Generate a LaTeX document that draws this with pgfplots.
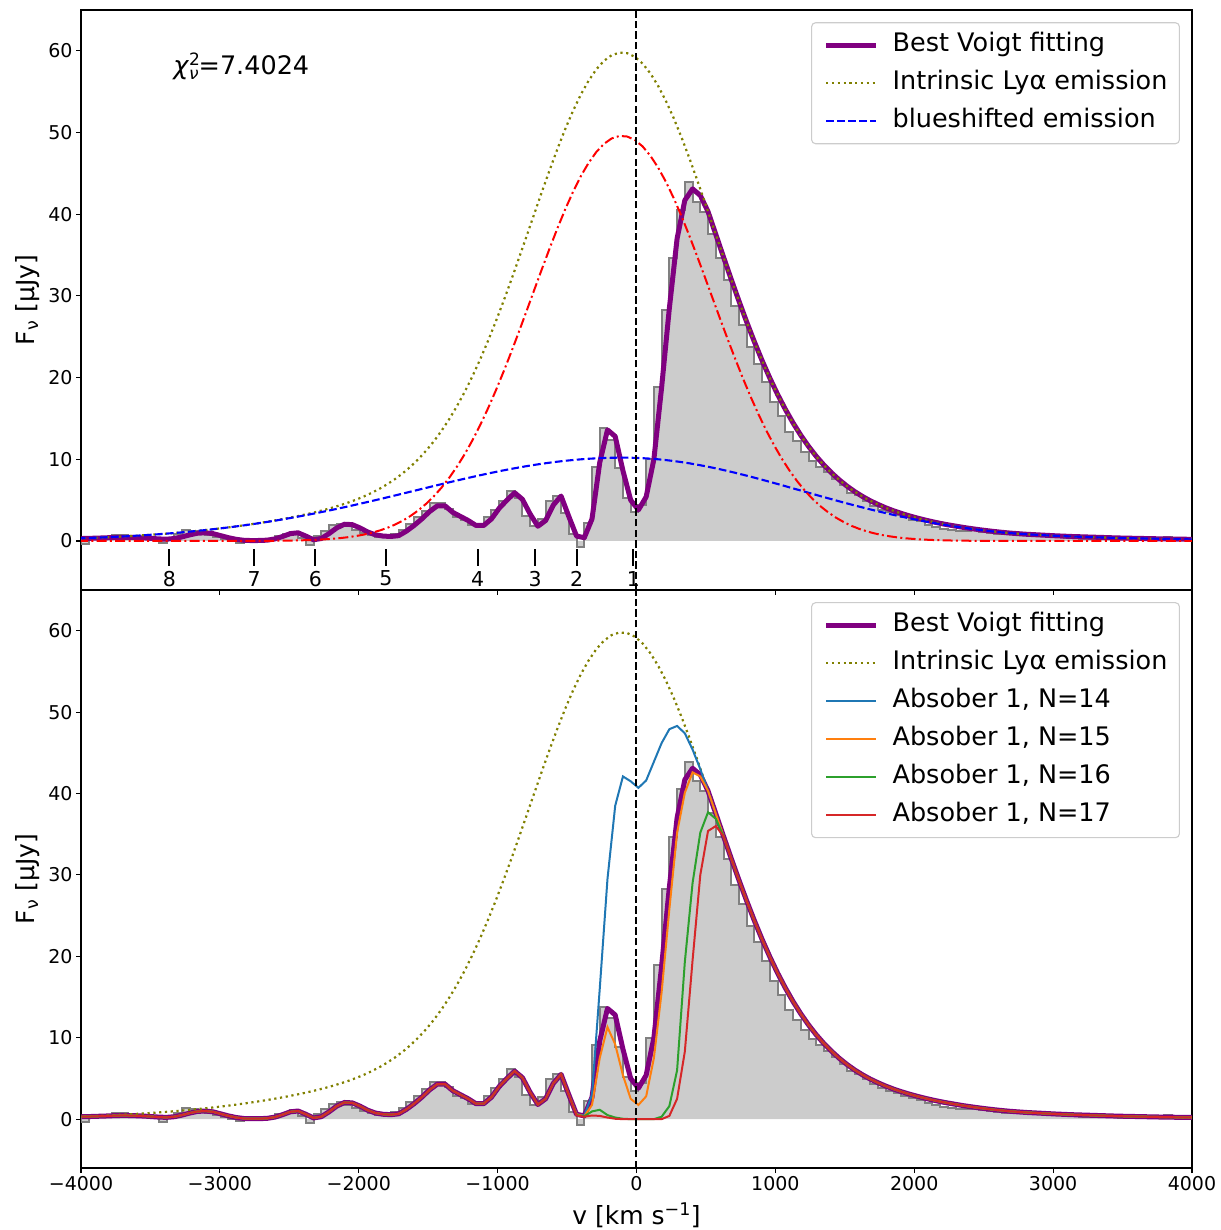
\documentclass[border=0pt]{standalone}
\usepackage{fontspec}
\setmainfont{DejaVu Sans}
\usepackage{pgfplots}
\usepackage{pgfplotstable}
\pgfplotsset{compat=1.18}
\definecolor{mplpurple}{HTML}{800080}
\definecolor{mplolive}{HTML}{808000}
\definecolor{tabblue}{HTML}{1F77B4}
\definecolor{taborange}{HTML}{FF7F0E}
\definecolor{tabgreen}{HTML}{2CA02C}
\definecolor{tabred}{HTML}{D62728}
\definecolor{legedge}{HTML}{CCCCCC}

\pgfplotstableread{
v D P n14 n15 n16 n17
-3996.5 0.3 0.30 0.30 0.30 0.30 0.30
-3940.8 -0.4 0.32 0.32 0.32 0.32 0.32
-3885.1 0.3 0.35 0.35 0.35 0.35 0.35
-3829.4 0.4 0.38 0.38 0.38 0.38 0.38
-3773.7 0.5 0.42 0.42 0.42 0.42 0.42
-3718.0 0.7 0.45 0.45 0.45 0.45 0.45
-3662.3 0.7 0.45 0.45 0.45 0.45 0.45
-3606.6 0.5 0.42 0.42 0.42 0.42 0.42
-3550.9 0.4 0.38 0.38 0.38 0.38 0.38
-3495.2 0.3 0.32 0.32 0.32 0.32 0.32
-3439.5 0.3 0.25 0.25 0.25 0.25 0.25
-3383.8 -0.3 0.22 0.22 0.22 0.22 0.22
-3328.1 0.1 0.30 0.30 0.30 0.30 0.30
-3272.4 0.8 0.50 0.50 0.50 0.50 0.50
-3216.7 1.4 0.75 0.75 0.75 0.75 0.75
-3161.0 1.2 0.95 0.95 0.95 0.95 0.95
-3105.3 0.9 1.00 1.00 1.00 1.00 1.00
-3049.6 0.7 0.90 0.90 0.90 0.90 0.90
-2993.9 0.5 0.65 0.65 0.65 0.65 0.65
-2938.2 0.3 0.40 0.40 0.40 0.40 0.40
-2882.5 0.0 0.20 0.20 0.20 0.20 0.20
-2826.8 -0.2 0.08 0.08 0.08 0.08 0.08
-2771.1 -0.1 0.05 0.05 0.05 0.05 0.05
-2715.4 0.0 0.06 0.06 0.06 0.06 0.06
-2659.7 0.1 0.10 0.10 0.10 0.10 0.10
-2604.0 0.3 0.25 0.25 0.25 0.25 0.25
-2548.3 0.6 0.55 0.55 0.55 0.55 0.55
-2492.6 0.8 0.90 0.90 0.90 0.90 0.90
-2436.9 1.1 1.00 1.00 1.00 1.00 1.00
-2381.2 0.4 0.60 0.60 0.60 0.60 0.60
-2325.5 -0.5 0.15 0.15 0.15 0.15 0.15
-2269.8 0.6 0.30 0.30 0.30 0.30 0.30
-2214.1 1.2 0.90 0.90 0.90 0.90 0.90
-2158.4 1.9 1.60 1.60 1.60 1.60 1.60
-2102.7 2.1 2.05 2.05 2.05 2.05 2.05
-2047.0 1.8 2.00 2.00 2.00 2.00 2.00
-1991.3 1.4 1.60 1.60 1.60 1.60 1.60
-1935.6 1.0 1.10 1.10 1.10 1.10 1.10
-1879.9 0.7 0.75 0.75 0.75 0.75 0.75
-1824.2 0.5 0.60 0.60 0.60 0.60 0.60
-1768.5 0.6 0.55 0.55 0.55 0.55 0.55
-1712.8 0.9 0.65 0.65 0.65 0.65 0.65
-1657.1 1.4 1.20 1.20 1.20 1.20 1.20
-1601.4 2.1 1.90 1.90 1.90 1.90 1.90
-1545.7 2.9 2.70 2.70 2.70 2.70 2.70
-1490.0 3.7 3.60 3.60 3.60 3.60 3.60
-1434.3 4.6 4.30 4.30 4.30 4.30 4.30
-1378.6 4.6 4.30 4.30 4.30 4.30 4.30
-1322.9 3.9 3.50 3.50 3.50 3.50 3.50
-1267.2 2.9 3.00 3.00 3.00 3.00 3.00
-1211.5 2.6 2.50 2.50 2.50 2.50 2.50
-1155.8 1.9 1.90 1.90 1.90 1.90 1.90
-1100.1 1.9 1.90 1.90 1.90 1.90 1.90
-1044.4 2.9 2.70 2.70 2.70 2.70 2.70
-988.7 3.8 4.00 4.00 4.00 4.00 4.00
-933.0 4.9 5.00 5.00 5.00 5.00 5.00
-877.3 6.1 5.90 5.90 5.90 5.90 5.90
-821.6 5.2 5.10 5.10 5.10 5.10 5.10
-765.9 3.0 3.30 3.30 3.30 3.30 3.30
-710.2 1.8 1.80 1.80 1.80 1.80 1.80
-654.5 2.7 2.50 2.50 2.50 2.50 2.50
-598.8 4.9 4.40 4.40 4.40 4.40 4.40
-543.1 5.5 5.50 5.50 5.50 5.50 5.50
-487.4 3.4 3.00 3.00 3.00 3.00 3.00
-431.7 0.9 0.60 0.60 0.60 0.50 0.45
-376.0 -0.7 0.40 0.45 0.35 0.35 0.30
-320.3 2.2 2.70 3.00 1.75 0.95 0.45
-264.6 9.1 9.60 16.0 7.50 1.15 0.40
-208.9 13.8 13.60 29.5 11.3 0.50 0.20
-153.2 12.4 12.80 38.5 9.20 0.20 0.05
-97.5 8.9 8.60 42.1 5.40 0.05 0.00
-41.8 5.2 5.00 41.5 2.50 0.00 0.00
13.9 3.5 3.80 40.7 1.75 0.00 0.00
69.6 4.4 5.40 41.6 2.80 0.00 0.00
125.3 10.0 10.00 43.9 7.50 0.00 0.00
181.0 18.9 18.80 46.2 15.6 0.30 0.00
236.7 28.3 28.50 47.9 25.8 1.60 0.40
292.4 34.6 37.00 48.3 35.2 6.00 2.50
348.1 40.5 41.70 47.4 40.1 19.3 8.30
403.8 43.9 43.10 45.4 42.6 29.0 19.5
459.5 41.5 42.30 43.0 42.1 35.2 30.0
515.2 40.3 40.32 40.32 40.32 37.7 35.4
570.9 37.6 37.54 37.54 37.54 36.9 36.0
626.6 34.7 34.76 34.76 34.76 34.76 34.76
682.3 31.9 32.02 32.02 32.02 32.02 32.02
738.0 28.8 29.36 29.36 29.36 29.36 29.36
793.7 26.4 26.80 26.80 26.80 26.80 26.80
849.4 23.7 24.36 24.36 24.36 24.36 24.36
905.1 21.7 22.06 22.06 22.06 22.06 22.06
960.8 19.4 19.92 19.92 19.92 19.92 19.92
1016.5 17.0 17.93 17.93 17.93 17.93 17.93
1072.2 15.3 16.11 16.11 16.11 16.11 16.11
1127.9 13.4 14.44 14.44 14.44 14.44 14.44
1183.6 12.2 12.93 12.93 12.93 12.93 12.93
1239.3 10.9 11.57 11.57 11.57 11.57 11.57
1295.0 9.8 10.35 10.35 10.35 10.35 10.35
1350.7 9.1 9.27 9.27 9.27 9.27 9.27
1406.4 8.4 8.31 8.31 8.31 8.31 8.31
1462.1 7.6 7.45 7.45 7.45 7.45 7.45
1517.8 6.8 6.69 6.69 6.69 6.69 6.69
1573.5 5.9 6.02 6.02 6.02 6.02 6.02
1629.2 5.6 5.43 5.43 5.43 5.43 5.43
1684.9 4.9 4.91 4.91 4.91 4.91 4.91
1740.6 4.3 4.46 4.46 4.46 4.46 4.46
1796.3 3.8 4.05 4.05 4.05 4.05 4.05
1852.0 3.5 3.69 3.69 3.69 3.69 3.69
1907.7 3.2 3.37 3.37 3.37 3.37 3.37
1963.4 2.9 3.08 3.08 3.08 3.08 3.08
2019.1 2.6 2.82 2.82 2.82 2.82 2.82
2074.8 2.4 2.58 2.58 2.58 2.58 2.58
2130.5 2.0 2.36 2.36 2.36 2.36 2.36
2186.2 1.7 2.16 2.16 2.16 2.16 2.16
2241.9 1.5 1.98 1.98 1.98 1.98 1.98
2297.6 1.4 1.82 1.82 1.82 1.82 1.82
2353.3 1.2 1.66 1.66 1.66 1.66 1.66
2409.0 1.2 1.52 1.52 1.52 1.52 1.52
2464.7 1.3 1.39 1.39 1.39 1.39 1.39
2520.4 1.1 1.27 1.27 1.27 1.27 1.27
2576.1 1.0 1.16 1.16 1.16 1.16 1.16
2631.8 0.9 1.06 1.06 1.06 1.06 1.06
2687.5 0.8 0.97 0.97 0.97 0.97 0.97
2743.2 0.8 0.90 0.90 0.90 0.90 0.90
2798.9 0.7 0.83 0.83 0.83 0.83 0.83
2854.6 0.7 0.78 0.78 0.78 0.78 0.78
2910.3 0.6 0.73 0.73 0.73 0.73 0.73
2966.0 0.7 0.68 0.68 0.68 0.68 0.68
3021.7 0.5 0.63 0.63 0.63 0.63 0.63
3077.4 0.5 0.59 0.59 0.59 0.59 0.59
3133.1 0.4 0.55 0.55 0.55 0.55 0.55
3188.8 0.4 0.52 0.52 0.52 0.52 0.52
3244.5 0.3 0.49 0.49 0.49 0.49 0.49
3300.2 0.3 0.46 0.46 0.46 0.46 0.46
3355.9 0.4 0.43 0.43 0.43 0.43 0.43
3411.6 0.3 0.40 0.40 0.40 0.40 0.40
3467.3 0.3 0.37 0.37 0.37 0.37 0.37
3523.0 0.2 0.35 0.35 0.35 0.35 0.35
3578.7 0.2 0.33 0.33 0.33 0.33 0.33
3634.4 0.3 0.31 0.31 0.31 0.31 0.31
3690.1 0.3 0.29 0.29 0.29 0.29 0.29
3745.8 0.2 0.27 0.27 0.27 0.27 0.27
3801.5 0.4 0.25 0.25 0.25 0.25 0.25
3857.2 0.5 0.24 0.24 0.24 0.24 0.24
3912.9 0.3 0.22 0.22 0.22 0.22 0.22
3968.6 0.2 0.21 0.21 0.21 0.21 0.21
4024.3 0.3 0.20 0.20 0.20 0.20 0.20
}\datatab

\pgfplotstableread{
X R B O
-4021.5 0 0.320 0.320
-3965.8 0 0.352 0.352
-3910.1 0 0.388 0.388
-3854.4 0 0.427 0.427
-3798.7 0 0.468 0.468
-3743.0 0 0.513 0.513
-3687.3 0 0.562 0.562
-3631.6 0 0.615 0.615
-3575.9 0 0.671 0.671
-3520.2 0 0.732 0.732
-3464.5 0 0.797 0.797
-3408.8 0 0.866 0.866
-3353.1 0 0.941 0.941
-3297.4 0 1.020 1.020
-3241.7 0 1.104 1.104
-3186.0 0 1.194 1.194
-3130.3 0 1.290 1.290
-3074.6 0 1.390 1.390
-3018.9 0 1.497 1.497
-2963.2 0 1.610 1.610
-2907.5 0 1.728 1.728
-2851.8 0.005 1.853 1.858
-2796.1 0.008 1.984 1.992
-2740.4 0.012 2.122 2.134
-2684.7 0.017 2.266 2.283
-2629.0 0.023 2.416 2.439
-2573.3 0.033 2.572 2.605
-2517.6 0.045 2.735 2.780
-2461.9 0.063 2.904 2.967
-2406.2 0.085 3.079 3.164
-2350.5 0.116 3.260 3.376
-2294.8 0.156 3.447 3.603
-2239.1 0.208 3.640 3.848
-2183.4 0.276 3.838 4.114
-2127.7 0.363 4.041 4.404
-2072.0 0.474 4.249 4.723
-2016.3 0.615 4.461 5.076
-1960.6 0.791 4.677 5.468
-1904.9 1.010 4.897 5.907
-1849.2 1.281 5.121 6.402
-1793.5 1.611 5.347 6.958
-1737.8 2.013 5.575 7.588
-1682.1 2.496 5.805 8.301
-1626.4 3.071 6.036 9.107
-1570.7 3.751 6.267 10.018
-1515.0 4.548 6.498 11.046
-1459.3 5.471 6.728 12.199
-1403.6 6.537 6.956 13.493
-1347.9 7.748 7.183 14.931
-1292.2 9.117 7.406 16.523
-1236.5 10.64 7.625 18.265
-1180.8 12.34 7.840 20.18
-1125.1 14.20 8.050 22.25
-1069.4 16.22 8.255 24.48
-1013.7 18.39 8.452 26.84
-958.0 20.69 8.642 29.33
-902.3 23.10 8.823 31.92
-846.6 25.61 8.997 34.61
-790.9 28.18 9.160 37.34
-735.2 30.78 9.314 40.09
-679.5 33.36 9.457 42.82
-623.8 35.89 9.589 45.48
-568.1 38.33 9.709 48.04
-512.4 40.63 9.817 50.45
-456.7 42.75 9.911 52.66
-401.0 44.65 9.994 54.64
-345.3 46.27 10.063 56.33
-289.6 47.61 10.118 57.73
-233.9 48.62 10.159 58.78
-178.2 49.28 10.186 59.47
-122.5 49.58 10.199 59.78
-66.8 49.51 10.197 59.71
-11.1 49.08 10.175 59.26
44.6 48.29 10.135 58.43
100.3 47.15 10.076 57.23
156.0 45.70 9.998 55.70
211.7 43.97 9.902 53.87
267.4 41.99 9.788 51.78
323.1 39.80 9.658 49.46
378.8 37.44 9.511 46.95
434.5 34.96 9.348 44.31
490.2 32.40 9.171 41.57
545.9 29.81 8.981 38.79
601.6 27.22 8.777 36.00
657.3 24.67 8.562 33.23
713.0 22.20 8.337 30.54
768.7 19.82 8.102 27.92
824.4 17.56 7.859 25.42
880.1 15.45 7.608 23.06
935.8 13.49 7.352 20.84
991.5 11.69 7.091 18.78
1047.2 10.06 6.826 16.89
1102.9 8.59 6.559 15.15
1158.6 7.28 6.290 13.57
1214.3 6.12 6.021 12.14
1270.0 5.11 5.752 10.86
1325.7 4.24 5.485 9.73
1381.4 3.49 5.221 8.71
1437.1 2.85 4.960 7.81
1492.8 2.31 4.703 7.01
1548.5 1.85 4.451 6.30
1604.2 1.48 4.204 5.68
1659.9 1.17 3.964 5.13
1715.6 0.92 3.730 4.65
1771.3 0.72 3.503 4.22
1827.0 0.56 3.284 3.84
1882.7 0.43 3.073 3.50
1938.4 0.33 2.870 3.20
1994.1 0.25 2.675 2.93
2049.8 0.19 2.489 2.68
2105.5 0.14 2.312 2.45
2161.2 0.10 2.143 2.24
2216.9 0.076 1.982 2.06
2272.6 0.055 1.830 1.89
2328.3 0.040 1.687 1.73
2384.0 0.029 1.552 1.58
2439.7 0.021 1.425 1.45
2495.4 0.015 1.306 1.32
2551.1 0.010 1.194 1.20
2606.8 0 1.09 1.09
2662.5 0 1.00 1.00
2718.2 0 0.93 0.93
2773.9 0 0.86 0.86
2829.6 0 0.80 0.80
2885.3 0 0.75 0.75
2941.0 0 0.70 0.70
2996.7 0 0.65 0.65
3052.4 0 0.61 0.61
3108.1 0 0.57 0.57
3163.8 0 0.53 0.53
3219.5 0 0.50 0.50
3275.2 0 0.47 0.47
3330.9 0 0.44 0.44
3386.6 0 0.41 0.41
3442.3 0 0.38 0.38
3498.0 0 0.36 0.36
3553.7 0 0.34 0.34
3609.4 0 0.32 0.32
3665.1 0 0.30 0.30
3720.8 0 0.28 0.28
3776.5 0 0.26 0.26
3832.2 0 0.24 0.24
3887.9 0 0.23 0.23
3943.6 0 0.21 0.21
3999.3 0 0.20 0.20
4055.0 0 0.19 0.19
}\smoothtab

\pgfplotsset{
  lyabase/.style={
    scale only axis, width=1111pt,
    xmin=-4000, xmax=4000, ymin=-6, ymax=65,
    xtick={-4000,-3000,-2000,-1000,0,1000,2000,3000,4000},
    ytick={0,10,20,30,40,50,60},
    yticklabels={0,10,20,30,40,50,60},
    xtick pos=left, ytick pos=left, tick align=outside,
    major tick length=5pt,
    tick style={black, line width=1.1pt},
    axis line style={line width=1.1pt},
    tick label style={font=\fontsize{19}{22}\selectfont},
    label style={font=\fontsize{25}{30}\selectfont},
    ylabel={F\textsubscript{ν} [μJy]},
    ylabel style={at={(axis description cs:-0.0477,0.5)}, anchor=center},
    legend style={at={(0.9892,0.979)}, anchor=north east, draw=legedge,
      line width=1.1pt, rounded corners=4pt, fill=white,
      font=\fontsize{25.5}{30}\selectfont,
      inner xsep=12pt, inner ysep=10.5pt, row sep=14pt, column sep=14pt,
      nodes={inner sep=0pt, text height=18.5pt, text depth=5.5pt}},
    legend cell align=left,
    legend image code/.code={\draw[##1] (6pt,0pt) -- (56pt,0pt);},
  },
  histfill/.style={const plot mark right, fill=gray!40, draw=none, forget plot},
  histline/.style={const plot mark right, draw=gray, line width=2pt, forget plot},
  bestfit/.style={mplpurple, line width=5pt, line join=round},
  intrinsic/.style={mplolive, line width=2.2pt, dash pattern=on 2.2pt off 3.6pt},
  zeroline/.style={black, line width=2pt, dash pattern=on 7.4pt off 3.2pt, forget plot},
}

\begin{document}
\begin{tikzpicture}
\path[use as bounding box] (0pt,0pt) rectangle (1220pt,1230pt);

% ---------------- top panel ----------------
\begin{axis}[lyabase, at={(81pt,640pt)}, anchor=south west, height=580pt,
  xticklabels={}]
\addplot[histfill] table[x=v,y=D] {\datatab} \closedcycle;
\addplot[histline] table[x=v,y=D] {\datatab};
\addplot[bestfit] table[x=v,y=P] {\datatab};
\addlegendentry{Best Voigt fitting}
\addplot[intrinsic] table[x=X,y=O] {\smoothtab};
\addlegendentry{Intrinsic Lyα emission}
\addplot[blue, line width=2.1pt, dash pattern=on 7.7pt off 3.3pt] table[x=X,y=B] {\smoothtab};
\addlegendentry{blueshifted emission}
\addplot[red, line width=2pt, dash pattern=on 10pt off 3.3pt on 2pt off 3.3pt, forget plot] table[x=X,y=R] {\smoothtab};
\addplot[zeroline] coordinates {(0,-6) (0,65)};
\pgfplotsinvokeforeach{-3364,-2754,-2313,-1804,-1144,-729,-431,-23}{
  \addplot[black, line width=2pt, forget plot] coordinates {(#1,-1.0) (#1,-3.1)};
}
\begin{scope}[font=\fontsize{20.5}{24}\selectfont]
\node at (axis cs:-3364,-4.6) {8};
\node at (axis cs:-2754,-4.6) {7};
\node at (axis cs:-2313,-4.6) {6};
\node at (axis cs:-1804,-4.6) {5};
\node at (axis cs:-1144,-4.6) {4};
\node at (axis cs:-729,-4.6) {3};
\node at (axis cs:-431,-4.6) {2};
\node at (axis cs:-23,-4.6) {1};
\end{scope}
\node[anchor=base west, inner sep=0pt, font=\fontsize{25.5}{30}\selectfont] at (axis cs:-3337,57.06)
  {\textit{χ}\rlap{\raisebox{9pt}{\fontsize{17}{20}\selectfont 2}}\raisebox{-5pt}{\fontsize{17}{20}\selectfont\textit{ν}}=7.4024};
\end{axis}

% ---------------- bottom panel ----------------
\begin{axis}[lyabase, at={(81pt,62pt)}, anchor=south west, height=578pt,
  xticklabels={−4000,−3000,−2000,−1000,0,1000,2000,3000,4000},
  xlabel={v [km s\textsuperscript{−1}]},
  xlabel style={at={(axis description cs:0.5,-0.0813)}, anchor=center}]
\addplot[histfill] table[x=v,y=D] {\datatab} \closedcycle;
\addplot[histline] table[x=v,y=D] {\datatab};
\addplot[bestfit] table[x=v,y=P] {\datatab};
\addlegendentry{Best Voigt fitting}
\addplot[intrinsic] table[x=X,y=O] {\smoothtab};
\addlegendentry{Intrinsic Lyα emission}
\addplot[tabblue, line width=2pt] table[x=v,y=n14] {\datatab};
\addlegendentry{Absober 1, N=14}
\addplot[taborange, line width=2pt] table[x=v,y=n15] {\datatab};
\addlegendentry{Absober 1, N=15}
\addplot[tabgreen, line width=2pt] table[x=v,y=n16] {\datatab};
\addlegendentry{Absober 1, N=16}
\addplot[tabred, line width=2pt] table[x=v,y=n17] {\datatab};
\addlegendentry{Absober 1, N=17}
\addplot[zeroline] coordinates {(0,-6) (0,65)};
\end{axis}
\end{tikzpicture}
\end{document}
